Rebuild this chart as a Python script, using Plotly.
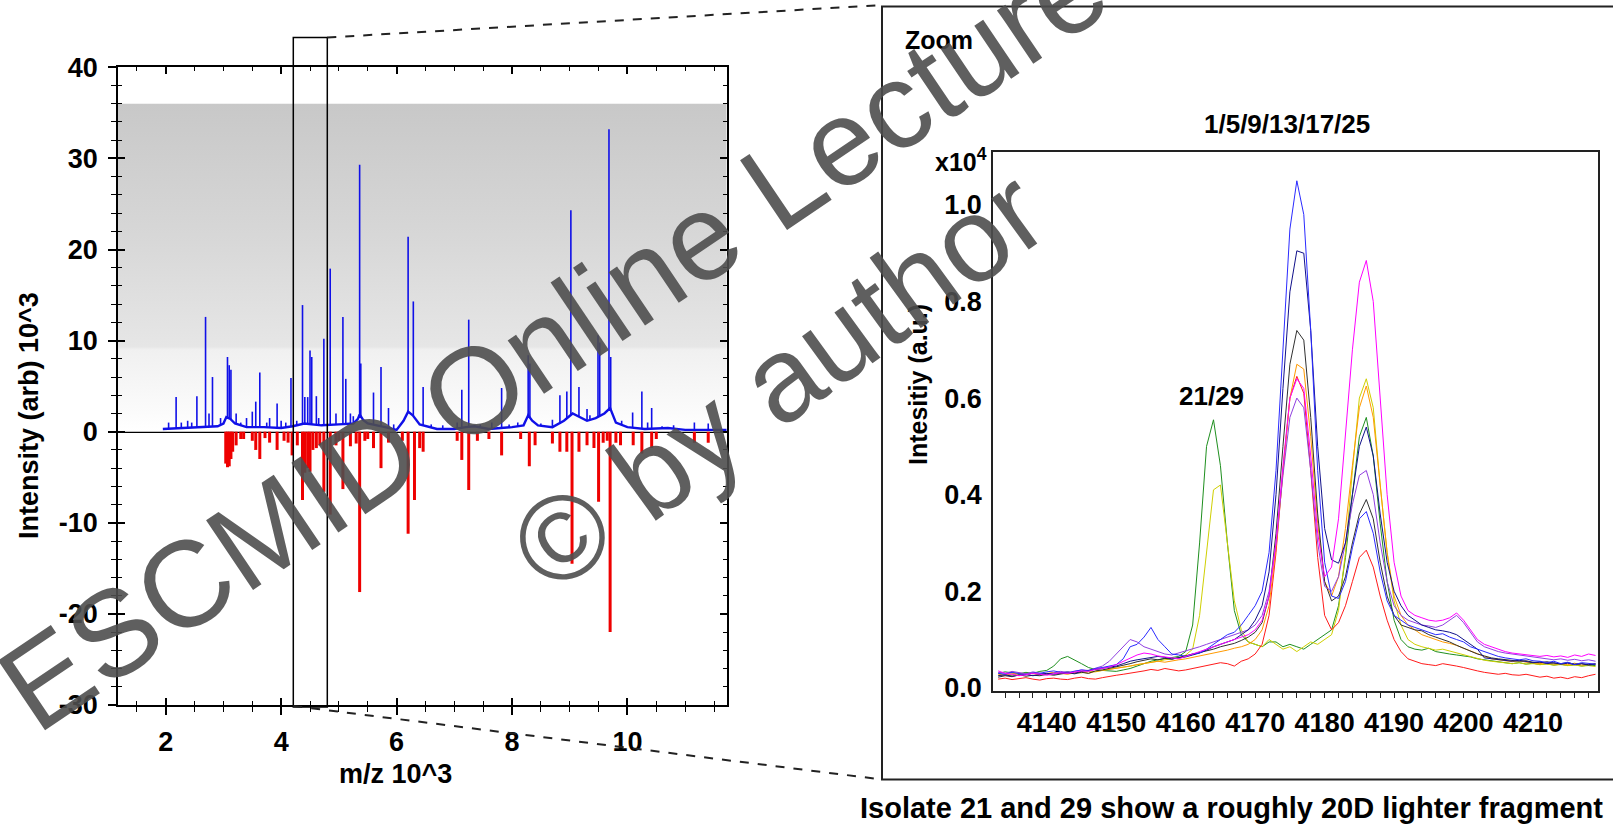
import numpy as np
import plotly.graph_objects as go

W, H = 1613, 830
def px(x):
    return x / W
def py(y):
    return 1 - y / H

FONT = "Arial, 'Liberation Sans', sans-serif"

# ---------------- left panel: full spectrum (m/z in 10^3, intensity in 10^3) -------------
blue_peak_mz = [2.05, 2.18, 2.27, 2.38, 2.45, 2.54, 2.69, 2.75, 2.81, 2.95, 3.07, 3.10, 3.13, 3.22,
                3.30, 3.40, 3.50, 3.56, 3.63, 3.75, 3.80, 3.93, 4.00, 4.08, 4.17, 4.27, 4.37, 4.41,
                4.46, 4.50, 4.53, 4.61, 4.65, 4.74, 4.85, 4.95, 5.07, 5.12, 5.20, 5.25, 5.36, 5.38,
                5.50, 5.60, 5.73, 5.86, 5.95, 6.20, 6.29, 6.46, 6.60, 6.80, 7.05, 7.13, 7.25, 7.45,
                7.65, 7.82, 7.95, 8.10, 8.28, 8.31, 8.50, 8.70, 8.83, 8.95, 9.02, 9.16, 9.30, 9.35,
                9.49, 9.52, 9.68, 9.71, 9.90, 10.09, 10.25, 10.35, 10.42, 10.60, 10.80, 11.16, 11.40]
blue_peak_int = [1.0, 3.8, 1.0, 1.2, 1.0, 3.9, 12.6, 2.0, 6.0, 1.5, 8.2, 7.3, 6.8, 2.0,
                 1.0, 1.5, 2.2, 3.3, 6.5, 1.0, 1.5, 3.1, 1.2, 1.0, 5.9, 1.2, 13.9, 3.8,
                 3.8, 8.9, 8.2, 3.9, 1.5, 10.2, 17.9, 2.0, 12.6, 5.8, 2.0, 1.7, 29.3, 7.5,
                 1.0, 4.3, 7.1, 2.6, 0.8, 21.4, 14.3, 4.9, 0.8, 0.7, 1.0, 4.6, 12.3, 0.8,
                 1.0, 4.8, 0.8, 1.0, 8.4, 7.5, 0.9, 1.3, 4.0, 4.4, 24.3, 4.9, 2.5, 1.8,
                 10.6, 9.8, 33.2, 8.2, 1.2, 2.1, 4.4, 1.0, 2.6, 0.6, 0.7, 1.0, 0.9]
baseline_mz = [1.95, 2.3, 2.6, 2.9, 3.0, 3.05, 3.12, 3.2, 3.4, 3.7, 4.0, 4.2, 4.4, 4.7, 5.0, 5.25,
               5.33, 5.36, 5.42, 5.5, 5.8, 6.0, 6.12, 6.2, 6.28, 6.4, 6.7, 7.0, 7.2, 7.35, 7.6,
               8.0, 8.2, 8.28, 8.35, 8.45, 8.7, 8.9, 9.05, 9.3, 9.45, 9.6, 9.7, 9.8, 10.0, 10.3,
               10.7, 11.0, 11.72]
baseline_int = [0.3, 0.4, 0.5, 0.6, 0.9, 1.6, 1.4, 0.9, 0.5, 0.5, 0.4, 0.6, 0.9, 0.7, 0.8, 0.9,
                1.4, 1.9, 1.3, 0.9, 0.5, 0.2, 1.2, 2.2, 1.8, 0.8, 0.3, 0.3, 0.5, 0.6, 0.3,
                0.5, 0.7, 1.8, 1.2, 0.7, 0.5, 1.2, 2.0, 1.2, 1.5, 2.0, 2.6, 1.0, 0.5, 0.3,
                0.4, 0.2, 0.2]
red_peak_mz = [3.04, 3.07, 3.10, 3.13, 3.16, 3.22, 3.30, 3.35, 3.50, 3.56, 3.63, 3.72, 3.80, 3.93,
               4.05, 4.12, 4.19, 4.28, 4.37, 4.41, 4.46, 4.50, 4.55, 4.61, 4.67, 4.74, 4.85, 4.95,
               5.00, 5.07, 5.20, 5.30, 5.36, 5.45, 5.50, 5.60, 5.73, 5.86, 6.10, 6.20, 6.31, 6.40,
               6.46, 7.05, 7.13, 7.25, 7.40, 7.60, 7.82, 8.15, 8.30, 8.40, 8.70, 8.83, 8.95, 9.04,
               9.16, 9.30, 9.42, 9.50, 9.58, 9.65, 9.70, 9.80, 9.88, 10.10, 10.25, 10.42, 10.50,
               11.16, 11.40]
red_peak_int = [-3.5, -3.9, -3.8, -3.0, -2.2, -1.5, -0.8, -0.8, -1.0, -2.0, -3.0, -0.7, -1.2, -2.0,
                -1.0, -1.2, -2.6, -1.5, -7.5, -4.5, -4.0, -4.4, -2.0, -1.8, -1.5, -6.6, -9.1, -1.5,
                -1.0, -6.3, -1.6, -1.3, -17.6, -1.0, -0.8, -1.8, -4.0, -1.2, -1.0, -11.2, -7.5, -1.8,
                -2.2, -1.0, -3.1, -6.4, -1.0, -0.8, -2.6, -0.8, -3.8, -1.5, -1.3, -2.2, -2.2, -14.5,
                -2.2, -1.5, -1.8, -7.7, -1.2, -1.0, -22.0, -1.2, -1.5, -1.5, -2.4, -1.8, -0.8,
                -1.2, -1.2]
shade_top = 36
left_ytick_vals = [-30, -20, -10, 0, 10, 20, 30, 40]
left_xtick_vals = [2, 4, 6, 8, 10]
assert len(blue_peak_mz) == len(blue_peak_int)
assert len(red_peak_mz) == len(red_peak_int)

# ---------------- right panel: zoom 4133..4219 (intensity in 10^4) ----------------
zoom_mz = list(range(4133, 4220))
zoom_blue = [.030, .028, .032, .030, .027, .031, .030, .033, .035, .032,
             .030, .034, .037, .035, .040, .042, .045, .048, .060, .085,
             .090, .105, .125, .100, .085, .070, .068, .065, .070, .072,
             .080, .090, .100, .110, .115, .130, .150, .170, .200, .280,
             .450, .700, .950, 1.050, .980, .740, .450, .260, .190, .185,
             .220, .290, .350, .365, .320, .240, .180, .150, .140, .130,
             .125, .120, .115, .110, .112, .105, .100, .095, .085, .080,
             .075, .070, .065, .062, .060, .058, .060, .056, .055, .052,
             .055, .050, .053, .048, .052, .050, .049]
zoom_navy = [.025, .027, .024, .026, .028, .025, .027, .030, .028, .031,
             .033, .030, .034, .036, .038, .040, .042, .045, .050, .055,
             .058, .060, .062, .065, .063, .060, .062, .064, .068, .072,
             .078, .085, .090, .095, .100, .110, .120, .140, .170, .240,
             .400, .620, .820, .905, .900, .740, .500, .330, .265, .258,
             .300, .400, .500, .540, .480, .360, .260, .200, .170, .150,
             .140, .130, .125, .120, .118, .115, .110, .100, .090, .080,
             .062, .060, .058, .056, .055, .057, .054, .052, .054, .050,
             .052, .049, .051, .048, .050, .047, .049]
zoom_black = [.022, .025, .023, .027, .024, .026, .025, .028, .026, .029,
              .031, .029, .032, .030, .035, .037, .040, .043, .047, .050,
              .054, .057, .060, .058, .061, .059, .063, .066, .070, .073,
              .076, .080, .085, .088, .092, .098, .105, .115, .135, .190,
              .320, .500, .670, .740, .720, .560, .360, .220, .180, .190,
              .230, .300, .360, .390, .350, .260, .190, .150, .130, .125,
              .120, .118, .110, .105, .100, .095, .088, .082, .076, .070,
              .066, .062, .060, .058, .057, .055, .056, .053, .052, .054,
              .051, .050, .052, .049, .050, .048, .050]
zoom_orange = [.028, .026, .029, .031, .028, .030, .027, .029, .032, .030,
               .028, .031, .033, .030, .034, .036, .038, .040, .043, .045,
               .048, .050, .052, .055, .053, .056, .058, .060, .063, .066,
               .068, .072, .075, .078, .082, .085, .090, .100, .120, .170,
               .290, .450, .600, .670, .660, .520, .340, .220, .190, .230,
               .330, .460, .580, .625, .560, .420, .280, .190, .150, .130,
               .120, .110, .105, .100, .095, .092, .088, .082, .076, .070,
               .065, .060, .058, .055, .054, .056, .053, .052, .050, .052,
               .049, .050, .048, .051, .047, .049, .048]
zoom_red = [.018, .020, .017, .019, .021, .018, .016, .019, .020, .018,
            .017, .020, .022, .019, .018, .021, .024, .026, .028, .030,
            .033, .035, .038, .036, .040, .038, .035, .037, .040, .043,
            .045, .048, .052, .050, .045, .055, .060, .070, .090, .150,
            .280, .450, .600, .645, .610, .450, .270, .150, .120, .135,
            .170, .220, .270, .285, .250, .190, .140, .100, .075, .060,
            .055, .050, .048, .046, .050, .048, .045, .042, .038, .035,
            .032, .030, .028, .030, .027, .026, .028, .025, .022, .024,
            .020, .022, .019, .023, .021, .025, .028]
zoom_magenta = [.035, .030, .028, .025, .027, .030, .028, .026, .029, .031,
                .030, .033, .035, .034, .038, .040, .043, .048, .055, .062,
                .068, .072, .070, .066, .064, .062, .060, .065, .070, .075,
                .080, .085, .090, .095, .100, .105, .110, .120, .140, .190,
                .300, .460, .600, .640, .620, .480, .320, .230, .250, .350,
                .520, .700, .840, .885, .800, .600, .400, .260, .190, .160,
                .150, .145, .140, .138, .140, .145, .155, .140, .120, .100,
                .090, .085, .080, .075, .072, .070, .068, .066, .065, .067,
                .064, .066, .063, .068, .065, .070, .067]
zoom_violet = [.032, .030, .034, .031, .029, .033, .030, .028, .031, .034,
               .032, .035, .037, .036, .040, .045, .055, .070, .085, .100,
               .095, .085, .080, .075, .070, .068, .072, .076, .080, .085,
               .090, .095, .100, .105, .110, .115, .120, .130, .150, .200,
               .300, .440, .560, .600, .580, .450, .300, .210, .200, .230,
               .300, .380, .440, .450, .400, .300, .220, .170, .150, .140,
               .135, .130, .128, .125, .130, .140, .150, .135, .115, .095,
               .085, .080, .075, .072, .070, .068, .066, .064, .062, .060,
               .058, .060, .057, .059, .056, .058, .055]
zoom_green = [.030, .033, .031, .029, .032, .030, .034, .036, .045, .060,
              .065, .058, .050, .042, .038, .036, .035, .034, .037, .040,
              .045, .050, .055, .058, .060, .062, .065, .075, .130, .300,
              .500, .555, .460, .300, .160, .110, .095, .090, .085, .095,
              .095, .085, .090, .085, .080, .090, .100, .110, .120, .170,
              .270, .400, .520, .560, .480, .340, .220, .140, .100, .085,
              .080, .078, .082, .075, .072, .070, .068, .066, .064, .060,
              .058, .056, .054, .052, .050, .052, .049, .051, .048, .050,
              .047, .049, .046, .048, .045, .047, .046]
zoom_yellow = [.025, .027, .026, .029, .028, .030, .027, .029, .031, .030,
               .029, .032, .031, .034, .033, .036, .038, .040, .042, .045,
               .048, .050, .053, .055, .058, .060, .062, .068, .080, .150,
               .280, .410, .420, .300, .180, .120, .095, .090, .085, .100,
               .090, .080, .085, .075, .085, .095, .090, .100, .110, .160,
               .280, .450, .600, .640, .580, .420, .280, .180, .130, .100,
               .090, .085, .082, .078, .080, .076, .072, .068, .064, .060,
               .057, .055, .053, .051, .050, .052, .049, .050, .048, .049,
               .047, .048, .046, .047, .045, .046, .044]

zoom_series = [
    ("green", "#1f8f1f", zoom_green),
    ("yellow", "#cfcf00", zoom_yellow),
    ("red", "#ff1a1a", zoom_red),
    ("orange", "#ff9a00", zoom_orange),
    ("black", "#303030", zoom_black),
    ("violet", "#9040e0", zoom_violet),
    ("navy", "#10108a", zoom_navy),
    ("blue", "#2a2aff", zoom_blue),
    ("magenta", "#ff00ff", zoom_magenta),
]
for _n, _c, _v in zoom_series:
    assert len(_v) == len(zoom_mz), (_n, len(_v))

# ---------------- axis geometry (pixels) ----------------
LX0, LX1, LY0, LY1 = 118, 726.7, 67.3, 705
RX0, RX1, RY0, RY1 = 993.3, 1598.3, 152.3, 690.7
left_xrange = [1.173, 11.72]
left_yrange = [-30, 40]
right_xrange = [4132.3, 4219.4]
right_yrange = [-0.006, 1.109]

fig = go.Figure()

# gray shaded band
fig.add_trace(go.Scatter(
    x=[left_xrange[0], left_xrange[1], left_xrange[1], left_xrange[0], left_xrange[0]],
    y=[0, 0, shade_top, shade_top, 0],
    fill="toself", mode="lines", line=dict(width=0),
    fillgradient=dict(type="vertical", start=0, stop=shade_top,
                      colorscale=[[0, "#ffffff"], [0.06, "#fbfbfb"], [0.25, "#f0f0f0"],
                                  [0.26, "#e6e6e6"], [0.6, "#d7d7d7"], [1, "#c8c8c8"]]),
    hoverinfo="skip", showlegend=False, xaxis="x", yaxis="y"))

# red negative sticks
rx, ry = [], []
for m, v in zip(red_peak_mz, red_peak_int):
    rx += [m, m, None]
    ry += [0, v, None]
fig.add_trace(go.Scatter(x=rx, y=ry, mode="lines", line=dict(color="#ee0000", width=3),
                         showlegend=False, xaxis="x", yaxis="y"))

# blue baseline + peaks
fig.add_trace(go.Scatter(x=baseline_mz, y=baseline_int, mode="lines",
                         line=dict(color="#1010e8", width=2.4), showlegend=False,
                         xaxis="x", yaxis="y"))
foot = np.interp(blue_peak_mz, baseline_mz, baseline_int)
bx, by = [], []
for m, h, f in zip(blue_peak_mz, blue_peak_int, foot):
    bx += [m, m, None]
    by += [f, h, None]
fig.add_trace(go.Scatter(x=bx, y=by, mode="lines", line=dict(color="#1010e8", width=1.6),
                         showlegend=False, xaxis="x", yaxis="y"))

# dummy for overlay axes
fig.add_trace(go.Scatter(x=[None], y=[None], xaxis="x3", yaxis="y3", showlegend=False))

# zoom traces
for name, color, vals in zoom_series:
    fig.add_trace(go.Scatter(x=zoom_mz, y=vals, mode="lines", name=name,
                             line=dict(color=color, width=1), showlegend=False,
                             xaxis="x2", yaxis="y2"))

tf = dict(family=FONT, size=27, color="black", weight="bold")
tf_r = dict(family=FONT, size=27, color="black", weight="bold")
minor_out_x = dict(dtick=0.5, tick0=0, ticks="outside", ticklen=5, tickwidth=1.3, tickcolor="black")
minor_in_x = dict(dtick=0.5, tick0=0, ticks="inside", ticklen=4, tickwidth=1.3, tickcolor="black")
minor_out_y = dict(dtick=2, tick0=0, ticks="outside", ticklen=5, tickwidth=1.3, tickcolor="black")
minor_in_y = dict(dtick=2, tick0=0, ticks="inside", ticklen=4, tickwidth=1.3, tickcolor="black")

fig.update_layout(
    width=W, height=H, margin=dict(l=0, r=0, t=0, b=0, pad=0, autoexpand=False), autosize=False,
    paper_bgcolor="white", plot_bgcolor="rgba(0,0,0,0)", showlegend=False,
    xaxis=dict(domain=[px(LX0), px(LX1)], range=left_xrange, anchor="y", automargin=False,
               tickmode="array", tickvals=left_xtick_vals, ticktext=[str(v) for v in left_xtick_vals],
               ticks="outside", ticklen=8, tickwidth=1.5, tickcolor="black",
               minor=minor_out_x, showline=True, linecolor="black", linewidth=1.5,
               showgrid=False, zeroline=False, tickfont=tf, ticklabelstandoff=4),
    yaxis=dict(domain=[py(LY1), py(LY0)], range=left_yrange, anchor="x", automargin=False,
               tickmode="array", tickvals=left_ytick_vals, ticktext=[str(v) for v in left_ytick_vals],
               ticks="outside", ticklen=8, tickwidth=1.5, tickcolor="black",
               minor=minor_out_y, showline=True, linecolor="black", linewidth=1.5,
               showgrid=False, zeroline=True, zerolinecolor="black", zerolinewidth=1.5,
               tickfont=tf, ticklabelstandoff=5),
    xaxis3=dict(domain=[px(LX0), px(LX1)], range=left_xrange, anchor="y3", overlaying="x",
                automargin=False,
                tick0=0, dtick=2, ticks="inside", ticklen=7, tickwidth=1.5, tickcolor="black",
                minor=minor_in_x, showline=True, linecolor="black", linewidth=1.5, mirror="ticks",
                showgrid=False, zeroline=False, showticklabels=False),
    yaxis3=dict(domain=[py(LY1), py(LY0)], range=left_yrange, anchor="x3", overlaying="y",
                automargin=False,
                tick0=0, dtick=10, ticks="inside", ticklen=7, tickwidth=1.5, tickcolor="black",
                minor=minor_in_y, showline=True, linecolor="black", linewidth=1.5, mirror="ticks",
                showgrid=False, zeroline=False, showticklabels=False),
    xaxis2=dict(domain=[px(RX0), px(RX1)], range=right_xrange, anchor="y2", automargin=False,
                tick0=4130, dtick=10, ticks="outside", ticklen=5, tickwidth=1, tickcolor="#222",
                minor=dict(dtick=2, tick0=4130, ticks="outside", ticklen=5, tickwidth=1, tickcolor="#222"),
                showline=True, linecolor="#222", linewidth=2, mirror=True,
                showgrid=False, zeroline=False, tickfont=tf_r, ticklabelstandoff=2),
    yaxis2=dict(domain=[py(RY1), py(RY0)], range=right_yrange, anchor="x2", automargin=False,
                tick0=0, dtick=0.2, tickformat=".1f", ticks="",
                showline=True, linecolor="#222", linewidth=2, mirror=True,
                showgrid=False, zeroline=False, tickfont=tf_r, ticklabelstandoff=4),
)

shapes = [
    # zoom window rectangle on left chart
    dict(type="rect", xref="paper", yref="paper", x0=px(293.3), x1=px(327.3), y0=py(707), y1=py(37.5),
         line=dict(color="black", width=1.5), fillcolor="rgba(0,0,0,0)"),
    # dashed connectors
    dict(type="line", xref="paper", yref="paper", x0=px(327.3), y0=py(37.5), x1=px(882), y1=py(5),
         line=dict(color="#222", width=2, dash="dash")),
    dict(type="line", xref="paper", yref="paper", x0=px(293.3), y0=py(706), x1=px(882), y1=py(779.5),
         line=dict(color="#222", width=2, dash="dash")),
    # outer frame of zoom panel
    dict(type="rect", xref="paper", yref="paper", x0=px(882), x1=px(1614), y0=py(779.5), y1=py(6.5),
         line=dict(color="#222", width=2), fillcolor="rgba(0,0,0,0)"),
]
fig.update_layout(shapes=shapes)

def bold(s):
    return dict(family=FONT, size=s, color="black", weight="bold")

ann = [
    dict(text="Intensity (arb) 10^3", x=px(29), y=py(416), textangle=-90, font=bold(27)),
    dict(text="m/z 10^3", x=px(395), y=py(774), font=bold(27)),
    dict(text="Zoom", x=px(903), y=py(40), xanchor="left", font=bold(25)),
    dict(text="1/5/9/13/17/25", x=px(1287), y=py(124), font=bold(26)),
    dict(text="x10<sup>4</sup>", x=px(989), y=py(160), xanchor="right", font=bold(25)),
    dict(text="Intesitiy (a.u.)", x=px(918), y=py(385), textangle=-90, font=bold(25)),
    dict(text="21/29", x=px(1211), y=py(396), font=bold(26)),
    dict(text="Isolate 21 and 29 show a roughly 20D lighter fragment", x=px(1231), y=py(808),
         font=bold(29)),
    # watermark
    dict(text="ESCMID Online Lecture", x=px(553), y=py(337), textangle=-34,
         font=dict(family=FONT, size=122, color="rgba(78,78,78,0.9)")),
    dict(text="© by author", x=px(778), y=py(380), textangle=-36,
         font=dict(family=FONT, size=120, color="rgba(78,78,78,0.9)")),
]
for a in ann:
    a.setdefault("xref", "paper")
    a.setdefault("yref", "paper")
    a.setdefault("showarrow", False)
    a.setdefault("xanchor", "center")
    a.setdefault("yanchor", "middle")
fig.update_layout(annotations=ann)

fig.write_html("out.html", config={"displayModeBar": False},
               post_script="document.body.style.margin='0px';document.body.style.overflow='hidden';")
